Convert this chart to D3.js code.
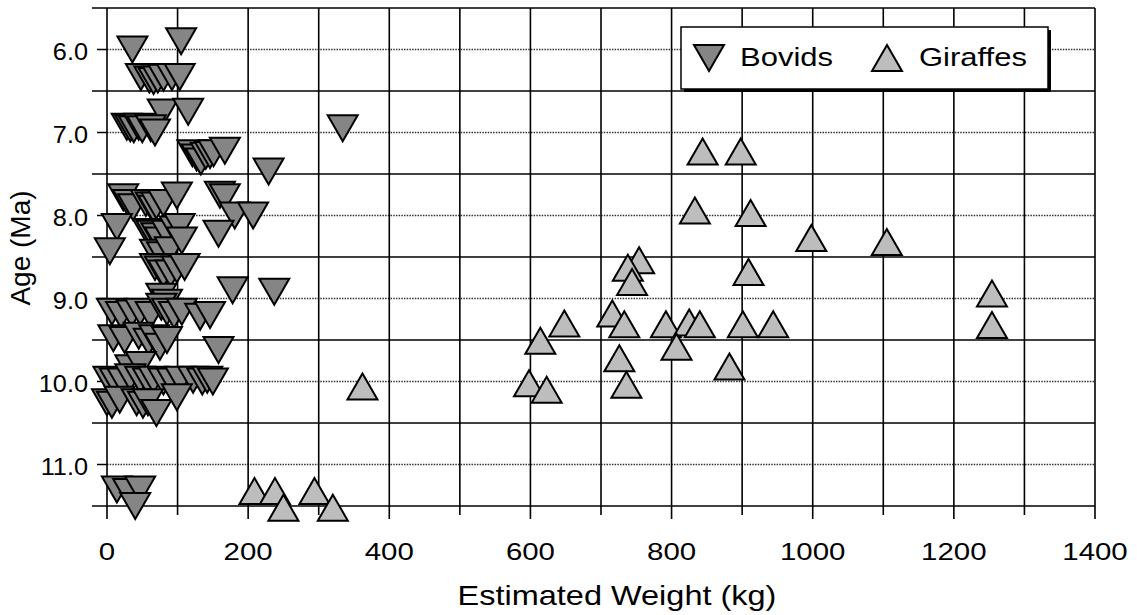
<!DOCTYPE html>
<html lang="en">
<head>
<meta charset="UTF-8">
<title>Estimated weight vs age</title>
<script src="https://cdn.jsdelivr.net/npm/d3@7"></script>
<style>
  html, body {margin: 0; background: #fff; overflow: hidden}
  svg text {font-family: "Liberation Sans", Arial, sans-serif; fill: #000}
</style>
</head>
<body>
<svg id="chart" width="1137" height="615"></svg>
<script>
// [weight kg, age Ma]
const bovids = [
  [36,6.0],[105,5.9],
  [48,6.33],[60,6.36],[66,6.38],[72,6.36],[80,6.34],[92,6.33],[103,6.33],
  [79,6.76],[115,6.75],
  [28,6.93],[33,6.95],[38,6.96],[45,6.93],[50,6.96],[62,6.95],[68,7.0],
  [121,7.25],[127,7.3],[133,7.35],[140,7.28],[146,7.27],[151,7.25],[167,7.22],
  [229,7.47],[334,6.95],
  [23,7.78],[30,7.85],[37,7.9],[55,7.85],[62,7.88],[66,7.92],[70,7.88],[80,7.85],[99,7.76],[160,7.75],[167,7.78],
  [14,8.14],[58,8.2],[63,8.22],[70,8.25],[75,8.3],[85,8.22],[96,8.17],[103,8.14],[181,8.0],[207,8.0],[158,8.22],
  [4,8.43],[68,8.45],[78,8.48],[89,8.42],[106,8.3],
  [68,8.62],[75,8.65],[80,8.7],[90,8.7],[99,8.65],[110,8.62],
  [178,8.9],[237,8.92],
  [77,8.98],[85,9.05],
  [7,9.16],[20,9.2],[35,9.18],[47,9.16],[62,9.2],[77,9.1],[85,9.16],[95,9.2],[106,9.16],[132,9.22],[146,9.2],
  [9,9.48],[25,9.5],[45,9.45],[59,9.52],[67,9.48],[75,9.58],[85,9.5],[158,9.62],
  [33,9.84],[48,9.8],
  [2,9.98],[11,10.0],[22,10.0],[33,9.95],[47,9.98],[58,10.0],[66,9.98],[80,10.0],[92,10.0],[104,9.98],[122,9.98],[135,10.0],[142,9.98],[150,10.0],
  [0,10.25],[7,10.28],[18,10.22],[42,10.25],[51,10.28],[58,10.25],[70,10.38],[99,10.19],
  [14,11.3],[30,11.33],[47,11.3],[40,11.5]
];
const giraffes = [
  [844,7.23],[898,7.23],[833,7.94],[912,7.97],[998,8.27],[1105,8.32],[909,8.68],
  [754,8.54],[738,8.63],[744,8.8],[1254,8.94],[1254,9.32],[648,9.3],[614,9.51],
  [598,10.02],[623,10.1],[716,9.18],[733,9.31],[726,9.72],[736,10.04],[792,9.31],
  [825,9.29],[840,9.31],[807,9.58],[882,9.82],[901,9.31],[944,9.31],[362,10.06],
  [209,11.32],[238,11.32],[250,11.52],[294,11.32],[320,11.52]
];
const xTicks = [0,200,400,600,800,1000,1200,1400];
const yTicks = [6,7,8,9,10,11];
const seriesNames = ['Bovids','Giraffes'];

const svg = d3.select('#chart');
const x = d3.scaleLinear().domain([0,1400]).range([107,1095]);
const y = d3.scaleLinear().domain([5.5,11.5]).range([8,506]);
const gridLeft = x(0) - 15;

// triangles, centred on their bounding box
const triDown = 'M-15,-13L15,-13L0,13Z';
const triUp = 'M0,-13L15,13L-15,13Z';

// dotted lines at labelled ages
svg.append('g').selectAll('line').data(yTicks).join('line')
  .attr('x1', x(0)).attr('x2', x(1400))
  .attr('y1', d => y(d)).attr('y2', d => y(d))
  .attr('stroke', '#333').attr('stroke-width', 1.5)
  .attr('stroke-dasharray', '1.5,1.2');
svg.append('g').selectAll('line').data(yTicks).join('line')
  .attr('x1', x(0) - 10).attr('x2', x(0))
  .attr('y1', d => y(d)).attr('y2', d => y(d))
  .attr('stroke', '#000').attr('stroke-width', 1.5);

// solid lines at half ages
svg.append('g').selectAll('line').data(d3.range(5.5, 11.6, 1)).join('line')
  .attr('x1', gridLeft).attr('x2', x(1400))
  .attr('y1', d => y(d)).attr('y2', d => y(d))
  .attr('stroke', '#000').attr('stroke-width', 1.6);

// vertical lines, extended below as ticks
svg.append('g').selectAll('line').data(d3.range(0, 1401, 100)).join('line')
  .attr('x1', d => x(d)).attr('x2', d => x(d))
  .attr('y1', y(5.5)).attr('y2', d => y(11.5) + (d % 200 === 0 ? 13 : 9))
  .attr('stroke', '#000').attr('stroke-width', 1.6);

// the scanned lettering is wider than Arial, so stretch it sideways
const wide = (px, py, sx) => `translate(${px},${py}) scale(${sx},1)`;

// tick labels
svg.append('g').selectAll('text').data(xTicks).join('text')
  .attr('transform', d => wide(x(d), 560, 1.28))
  .attr('text-anchor', 'middle')
  .style('font-size', '23px')
  .text(d => d);
svg.append('g').selectAll('text').data(yTicks).join('text')
  .attr('transform', d => wide(88, y(d) + 10, 1.1))
  .attr('text-anchor', 'end')
  .style('font-size', '23px')
  .text(d => d3.format('.1f')(d));

// axis titles
svg.append('text')
  .attr('transform', wide(617, 605, 1.16))
  .attr('text-anchor', 'middle')
  .style('font-size', '28px')
  .text('Estimated Weight (kg)');
svg.append('text')
  .attr('transform', 'translate(30,248) rotate(-90)')
  .attr('text-anchor', 'middle')
  .style('font-size', '28px')
  .text('Age (Ma)');

// points
svg.append('g').selectAll('path').data(bovids).join('path')
  .attr('d', triDown)
  .attr('transform', d => `translate(${x(d[0])},${y(d[1])})`)
  .attr('fill', '#858585').attr('stroke', '#000').attr('stroke-width', 2);
svg.append('g').selectAll('path').data(giraffes).join('path')
  .attr('d', triUp)
  .attr('transform', d => `translate(${x(d[0])},${y(d[1])})`)
  .attr('fill', '#bdbdbd').attr('stroke', '#000').attr('stroke-width', 2);

// legend
const lg = svg.append('g');
lg.append('rect').attr('x', 684).attr('y', 30).attr('width', 367).attr('height', 62).attr('fill', '#000');
lg.append('rect').attr('x', 681).attr('y', 27).attr('width', 367).attr('height', 62)
  .attr('fill', '#fff').attr('stroke', '#000').attr('stroke-width', 1.5);
lg.append('path').attr('d', triDown).attr('transform', 'translate(709,58)')
  .attr('fill', '#858585').attr('stroke', '#000').attr('stroke-width', 2);
lg.append('path').attr('d', triUp).attr('transform', 'translate(887,58)')
  .attr('fill', '#bdbdbd').attr('stroke', '#000').attr('stroke-width', 2);
lg.selectAll('text.lab').data(seriesNames).join('text')
  .attr('class', 'lab')
  .attr('transform', (d, i) => wide(i === 0 ? 740 : 919, 66, 1.24))
  .style('font-size', '25px')
  .text(d => d);
</script>
</body>
</html>
